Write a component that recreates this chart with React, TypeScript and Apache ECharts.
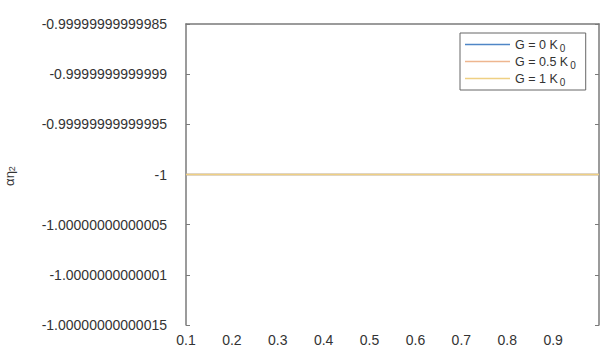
import React, { useEffect, useRef } from "react";
import * as echarts from "echarts";

const xValues = [0.1, 0.2, 0.3, 0.4, 0.5, 0.6, 0.7, 0.8, 0.9, 1.0];
const seriesNames = ["G = 0 K", "G = 0.5 K", "G = 1 K"];
const seriesColors = ["#4f86c6", "#eeb68f", "#efd083"];
const seriesG0 = ["-1", "-1", "-1", "-1", "-1", "-1", "-1", "-1", "-1", "-1"];
const seriesG05 = ["-1", "-1", "-1", "-1", "-1", "-1", "-1", "-1", "-1", "-1"];
const seriesG1 = ["-1", "-1", "-1", "-1", "-1", "-1", "-1", "-1", "-1", "-1"];
const yCategories = [
  "-1.00000000000015",
  "-1.0000000000001",
  "-1.00000000000005",
  "-1",
  "-0.99999999999995",
  "-0.9999999999999",
  "-0.99999999999985",
];

export default function App() {
  const ref = useRef<HTMLDivElement>(null);
  useEffect(() => {
    if (!ref.current) return;
    const chart = echarts.init(ref.current, undefined, { renderer: "svg" });
    const allSeries = [seriesG0, seriesG05, seriesG1];
    const axisColor = "#7a7a7a";
    const font = "Liberation Sans, Arial, sans-serif";
    chart.setOption({
      animation: false,
      backgroundColor: "#ffffff",
      grid: { left: 186, top: 24, right: 14, bottom: 27, containLabel: false },
      legend: {
        orient: "vertical",
        left: 460,
        top: 33,
        padding: [5, 10, 3, 5],
        borderColor: "#666",
        borderWidth: 1,
        backgroundColor: "#fff",
        itemWidth: 45,
        itemHeight: 12,
        itemGap: 2,
        icon: "path://M0,5 L45,5 L45,6.3 L0,6.3 Z",
        data: seriesNames,
        textStyle: {
          fontFamily: font,
          fontSize: 12.5,
          color: "#333",
          rich: { sub: { fontSize: 10, verticalAlign: "bottom", padding: [7, 0, 0, 2], fontFamily: font, color: "#333" } },
        },
        formatter: (n: string) => n + "{sub|0}",
      },
      xAxis: [
        {
          type: "value",
          min: 0.1,
          max: 1,
          interval: 0.1,
          position: "bottom",
          splitLine: { show: false },
          axisLine: { lineStyle: { color: axisColor, width: 1.5 } },
          axisTick: { inside: true, length: 4, lineStyle: { color: axisColor } },
          axisLabel: {
            margin: 8,
            fontSize: 14,
            fontFamily: font,
            color: "#333",
            formatter: (v: number) => (v >= 0.99 ? "" : (Math.round(v * 10) / 10).toFixed(1)),
          },
        },
        {
          type: "value",
          min: 0.1,
          max: 1,
          interval: 0.1,
          position: "top",
          splitLine: { show: false },
          axisLine: { show: true, lineStyle: { color: axisColor, width: 1.5 } },
          axisTick: { inside: true, length: 4, lineStyle: { color: axisColor } },
          axisLabel: { show: false },
        },
      ],
      yAxis: [
        {
          type: "category",
          data: yCategories,
          boundaryGap: false,
          position: "left",
          axisLine: { lineStyle: { color: axisColor, width: 1.5 } },
          axisTick: { inside: true, length: 4, lineStyle: { color: axisColor } },
          axisLabel: { margin: 19, fontSize: 14, fontFamily: font, color: "#333" },
          splitLine: { show: false },
        },
        {
          type: "category",
          data: yCategories,
          boundaryGap: false,
          position: "right",
          axisLine: { show: true, lineStyle: { color: axisColor, width: 1.5 } },
          axisTick: { inside: true, length: 4, lineStyle: { color: axisColor } },
          axisLabel: { show: false },
          splitLine: { show: false },
        },
      ],
      graphic: [
        {
          type: "text",
          x: 9,
          y: 176,
          rotation: Math.PI / 2,
          style: {
            text: "αη{sub|2}",
            fontFamily: font,
            fontSize: 13,
            fill: "#333",
            align: "center",
            verticalAlign: "middle",
            rich: { sub: { fontSize: 9, padding: [6, 0, 0, 0], fontFamily: font, fill: "#333" } },
          },
        },
      ],
      series: seriesNames.map((name, k) => ({
        name,
        type: "line",
        symbol: "none",
        xAxisIndex: 0,
        yAxisIndex: 0,
        lineStyle: { color: seriesColors[k], width: 1.5 },
        itemStyle: { color: seriesColors[k] },
        data: xValues.map((x, i) => [x, allSeries[k][i]]),
      })),
    });
    return () => chart.dispose();
  }, []);
  return <div ref={ref} style={{ position: "absolute", left: 0, top: 0, width: 613, height: 352 }} />;
}
